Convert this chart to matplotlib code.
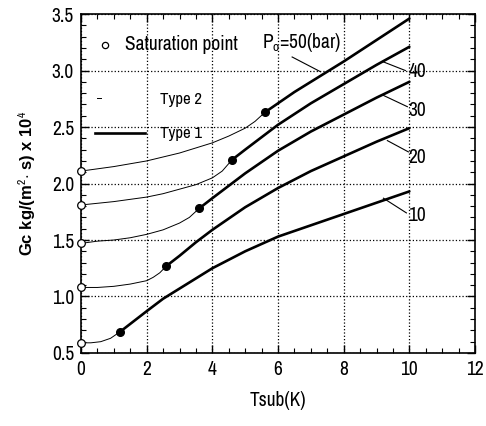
import matplotlib
matplotlib.use("Agg")
import matplotlib.pyplot as plt
from matplotlib.ticker import MultipleLocator

plt.rcParams['font.family'] = ['Archivo Narrow', 'Liberation Sans', 'DejaVu Sans']
plt.rcParams['mathtext.fontset'] = 'custom'
plt.rcParams['mathtext.rm'] = 'Archivo Narrow'
plt.rcParams['mathtext.it'] = 'Archivo Narrow'

# pressures (bar)
pressures = [10, 20, 30, 40, 50]

# Type 2 (thin) part of each curve, from Tsub=0 to the saturation point
t2_x = {
    10: [0, 0.3, 0.6, 0.9, 1.2],
    20: [0, 0.5, 1, 1.5, 2, 2.2, 2.4, 2.6],
    30: [0, 0.5, 1, 1.5, 2, 2.5, 3, 3.3, 3.6],
    40: [0, 1, 2, 2.5, 3, 3.5, 4, 4.3, 4.6],
    50: [0, 1, 2, 3, 4, 4.5, 5, 5.3, 5.6],
}
t2_y = {
    10: [0.59, 0.59, 0.60, 0.63, 0.69],
    20: [1.08, 1.08, 1.09, 1.11, 1.14, 1.17, 1.21, 1.27],
    30: [1.47, 1.49, 1.50, 1.52, 1.55, 1.59, 1.65, 1.70, 1.78],
    40: [1.81, 1.84, 1.88, 1.91, 1.95, 1.99, 2.05, 2.11, 2.21],
    50: [2.11, 2.15, 2.20, 2.27, 2.36, 2.42, 2.49, 2.55, 2.63],
}

# Type 1 (thick) part, from the saturation point to Tsub=10
t1_x = {
    10: [1.2, 1.6, 2, 2.5, 3, 3.5, 4, 5, 6, 7, 8, 9, 10],
    20: [2.6, 3, 3.5, 4, 5, 6, 7, 8, 9, 10],
    30: [3.6, 4, 4.5, 5, 6, 7, 8, 9, 10],
    40: [4.6, 5, 5.5, 6, 7, 8, 9, 10],
    50: [5.6, 6, 6.5, 7, 8, 9, 10],
}
t1_y = {
    10: [0.69, 0.78, 0.87, 0.98, 1.07, 1.16, 1.25, 1.40, 1.53, 1.63, 1.73, 1.83, 1.93],
    20: [1.27, 1.36, 1.48, 1.59, 1.79, 1.96, 2.11, 2.24, 2.37, 2.49],
    30: [1.78, 1.87, 1.98, 2.09, 2.29, 2.46, 2.61, 2.76, 2.90],
    40: [2.21, 2.30, 2.41, 2.52, 2.71, 2.88, 3.05, 3.21],
    50: [2.63, 2.71, 2.81, 2.90, 3.08, 3.27, 3.46],
}

# curve labels: text, text position, leader line start / end
label_text = {10: "10", 20: "20", 30: "30", 40: "40", 50: "P$_o$=50(bar)"}
label_xy = {10: (9.97, 1.72), 20: (9.97, 2.23), 30: (9.97, 2.65), 40: (9.97, 2.99), 50: (5.52, 3.25)}
leader_a = {10: (9.21, 1.87), 20: (9.33, 2.38), 30: (9.21, 2.78), 40: (9.18, 3.08), 50: (6.43, 3.12)}
leader_b = {10: (9.91, 1.74), 20: (9.97, 2.28), 30: (9.94, 2.68), 40: (9.88, 3.0), 50: (7.29, 2.99)}

fig = plt.figure(figsize=(4.86, 4.26), dpi=100)
ax = fig.add_axes([0.1667, 0.1714, 0.8107, 0.7956])

for p in pressures:
    ax.plot(t2_x[p], t2_y[p], color='black', lw=0.7)
    ax.plot(t1_x[p], t1_y[p], color='black', lw=1.9, solid_capstyle='round')
    ax.plot(t2_x[p][0], t2_y[p][0], 'o', mfc='white', mec='black', ms=5.5, mew=0.9, clip_on=False, zorder=5)
    ax.plot(t1_x[p][0], t1_y[p][0], 'o', color='black', ms=5.5, zorder=5)
    xa, ya = leader_a[p]
    xb, yb = leader_b[p]
    ax.plot([xa, xb], [ya, yb], color='black', lw=0.8)
    ax.text(label_xy[p][0], label_xy[p][1], label_text[p], fontsize=14, ha='left', va='center')

# legend drawn by hand
ax.plot(0.061, 0.909, 'o', mfc='white', mec='black', ms=4.5, mew=0.9, transform=ax.transAxes)
ax.text(0.112, 0.909, "Saturation point", fontsize=14, va='center', transform=ax.transAxes)
ax.plot([0.04, 0.05], [0.752, 0.752], color='black', lw=0.7, transform=ax.transAxes)
ax.text(0.2, 0.749, "Type 2", fontsize=12, va='center', transform=ax.transAxes)
ax.plot([0.036, 0.162], [0.649, 0.649], color='black', lw=1.9, transform=ax.transAxes)
ax.text(0.2, 0.649, "Type 1", fontsize=12, va='center', transform=ax.transAxes)

ax.set_xlim(0, 12)
ax.set_ylim(0.5, 3.5)
ax.xaxis.set_major_locator(MultipleLocator(2))
ax.xaxis.set_minor_locator(MultipleLocator(0.5))
ax.yaxis.set_major_locator(MultipleLocator(0.5))
ax.yaxis.set_minor_locator(MultipleLocator(0.1))
ax.tick_params(which='both', direction='in', top=True, right=True, labelsize=14)
ax.tick_params(which='major', length=6, width=1, pad=5)
ax.tick_params(which='minor', length=3.5, width=0.8)
ax.grid(True, which='major', linestyle=':', color='black', lw=0.9)
for s in ax.spines.values():
    s.set_linewidth(1.2)

ax.set_xlabel("Tsub(K)", fontsize=14, labelpad=9)
ax.set_ylabel("Gc kg/(m$^{2}$$\\cdot$ s) x 10$^{4}$", fontsize=12, fontweight='bold',
              family=['Liberation Sans', 'DejaVu Sans'], labelpad=10)

fig.savefig("out.png", dpi=100)
